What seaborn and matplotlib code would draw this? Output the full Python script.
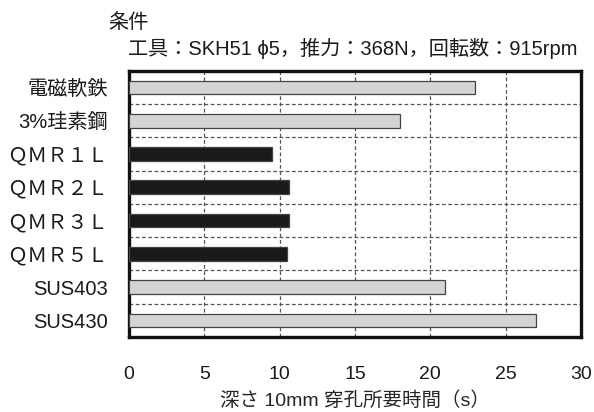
import matplotlib
matplotlib.use("Agg")
import matplotlib.pyplot as plt
import seaborn as sns
import pandas as pd

materials = ["電磁軟鉄", "3%珪素鋼", "ＱＭＲ１Ｌ", "ＱＭＲ２Ｌ", "ＱＭＲ３Ｌ", "ＱＭＲ５Ｌ", "SUS403", "SUS430"]
drill_time = [23.0, 18.0, 9.5, 10.6, 10.6, 10.5, 21.0, 27.0]
bar_colors = ["#d4d4d4", "#d4d4d4", "#1a1a1a", "#1a1a1a", "#1a1a1a", "#1a1a1a", "#d4d4d4", "#d4d4d4"]
x_ticks = [0, 5, 10, 15, 20, 25, 30]

sns.set_style("white")
plt.rcParams["font.family"] = ["Liberation Sans", "Noto Sans CJK JP", "DejaVu Sans"]
plt.rcParams["text.color"] = "#1a1a1a"

df = pd.DataFrame({"material": materials, "time": drill_time})

fig = plt.figure(figsize=(5.94, 4.12), dpi=100)
ax = fig.add_axes([0.217, 0.182, 0.761, 0.646])

sns.barplot(data=df, y="material", x="time", hue="material", palette=bar_colors,
            order=materials, legend=False, width=0.41, edgecolor="#444444",
            linewidth=0.9, ax=ax, zorder=3)

ax.set_xlim(0, 30)
ax.set_ylim(len(materials) - 0.5, -0.5)
ax.set_xticks(x_ticks)

# dashed grid: vertical at ticks, horizontal between rows
for v in x_ticks[1:-1]:
    ax.axvline(v, color="#555555", lw=0.9, ls=(0, (3, 2)), zorder=1)
for i in range(len(materials) - 1):
    ax.axhline(i + 0.5, color="#555555", lw=0.9, ls=(0, (3, 2)), zorder=1)

for s in ax.spines.values():
    s.set_visible(True)
    s.set_color("#111111")
    s.set_linewidth(2.4)

ax.tick_params(axis="x", direction="in", length=4, width=0.9, pad=21, labelsize=14, colors="#1a1a1a")
ax.tick_params(axis="y", length=0, pad=15, labelsize=14.5, colors="#1a1a1a")
ax.set_ylabel("")
ax.set_xlabel("深さ 10mm 穿孔所要時間（s）", fontsize=14, labelpad=6)

fig.text(0.182, 0.945, "条件", fontsize=14.5, ha="left", va="center")
fig.text(0.215, 0.883, "工具：SKH51 ϕ5，推力：368N，回転数：915rpm", fontsize=14.5, ha="left", va="center")

fig.savefig("out.png", dpi=100)
